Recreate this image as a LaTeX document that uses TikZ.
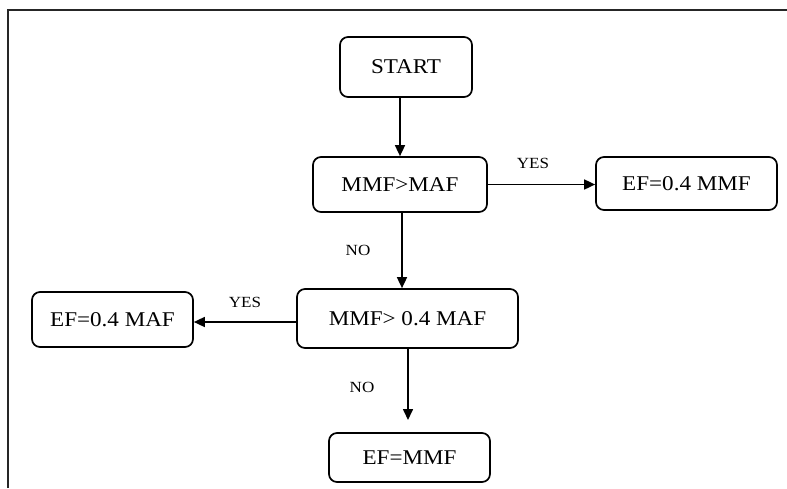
\documentclass[tikz,border=0pt]{standalone}
\usepackage{fontspec}
\setmainfont{Liberation Serif}[FakeStretch=1.1]
\usetikzlibrary{arrows.meta}
\tikzset{
  box/.style={draw, line width=1.7pt, rounded corners=8pt, align=center, inner sep=0pt, font=\fontsize{21}{25}\selectfont},
  arr/.style={line width=1.6pt, -{Triangle[length=11pt,width=10pt]}},
  lbl/.style={font=\fontsize{15.5}{18}\selectfont, inner sep=0pt},
  frame/.style={line width=2pt, draw=black!85}
}
\begin{document}
\begin{tikzpicture}[x=1pt,y=-1pt]
\useasboundingbox (0,0) rectangle (787,488);
\draw[frame] (8,488) -- (8,10) -- (787,10);
\node[box, minimum width=132pt, minimum height=60pt] (start) at (406,67) {START};
\node[box, minimum width=174pt, minimum height=55pt] (d1) at (400,184.5) {MMF>MAF};
\node[box, minimum width=181pt, minimum height=53pt] (ef1) at (686.5,183.5) {EF=0.4 MMF};
\node[box, minimum width=221pt, minimum height=59pt] (d2) at (407.5,318.5) {MMF> 0.4 MAF};
\node[box, minimum width=161pt, minimum height=55pt] (ef2) at (112.5,319.5) {EF=0.4 MAF};
\node[box, minimum width=161pt, minimum height=49pt] (ef3) at (409.5,457.5) {EF=MMF};
\coordinate (c1) at (402,0);
\coordinate (c2) at (0,322);
\coordinate (c3) at (408,420);
\draw[arr] (start.south -| d1.north) -- (d1.north);
\draw[arr] (d1.east) -- (d1.east -| ef1.west);
\draw[arr] (d1.south -| c1) -- (d2.north -| c1);
\draw[arr] (d2.west |- c2) -- (ef2.east |- c2);
\draw[arr] (d2.south -| c3) -- (c3);
\node[lbl] (y1) at (533,163) {YES};
\node[lbl] (n1) at (358,250) {NO};
\node[lbl] (y2) at (245,302) {YES};
\node[lbl] (n2) at (362,387) {NO};
\end{tikzpicture}
\end{document}
